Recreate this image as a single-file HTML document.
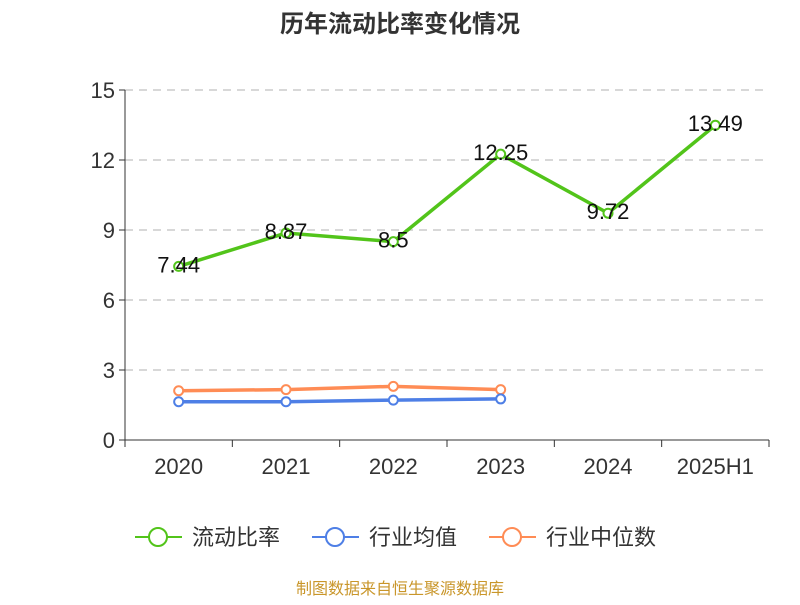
<!DOCTYPE html>
<html><head><meta charset="utf-8"><style>
body{margin:0;background:#fff;font-family:"Liberation Sans","Noto Sans CJK SC",sans-serif;}
</style></head><body>
<svg id="c" width="800" height="600" xmlns="http://www.w3.org/2000/svg" font-family="Liberation Sans, Noto Sans CJK SC, sans-serif">
<text x="400" y="32" text-anchor="middle" font-size="24" font-weight="bold" fill="#333">历年流动比率变化情况</text>
<g id="grid"></g><g id="axes"></g><g id="series"></g>
<g>
<g><line x1="135" y1="537" x2="182" y2="537" stroke="#52c41a" stroke-width="2"/><circle cx="158" cy="537" r="9" fill="#fff" stroke="#52c41a" stroke-width="2"/><text x="192" y="545" font-size="22" fill="#333">流动比率</text></g>
<g><line x1="312" y1="537" x2="359" y2="537" stroke="#4e7fe6" stroke-width="2"/><circle cx="335" cy="537" r="9" fill="#fff" stroke="#4e7fe6" stroke-width="2"/><text x="369" y="545" font-size="22" fill="#333">行业均值</text></g>
<g><line x1="489" y1="537" x2="536" y2="537" stroke="#ff8c55" stroke-width="2"/><circle cx="512" cy="537" r="9" fill="#fff" stroke="#ff8c55" stroke-width="2"/><text x="546" y="545" font-size="22" fill="#333">行业中位数</text></g>
</g>
<text x="400" y="594" text-anchor="middle" font-size="16" fill="#c9962a">制图数据来自恒生聚源数据库</text>
</svg>
<script>
const categories=["2020","2021","2022","2023","2024","2025H1"];
const currentRatio=[7.44,8.87,8.5,12.25,9.72,13.49];
const industryAvg=[1.64,1.64,1.71,1.76];
const industryMedian=[2.11,2.16,2.3,2.16];
const yTicks=[0,3,6,9,12,15];
const NS="http://www.w3.org/2000/svg";
const x0=125,x1=769,y0=440,yTop=90,yMax=15;
const band=(x1-x0)/categories.length;
const xs=i=>x0+band*(i+0.5);
const ys=v=>y0-(v/yMax)*(y0-yTop);
function mk(t,a,p){const e=document.createElementNS(NS,t);for(const k in a)e.setAttribute(k,a[k]);p.appendChild(e);return e;}
const grid=document.getElementById('grid'),axes=document.getElementById('axes'),ser=document.getElementById('series');
yTicks.forEach(v=>{
 if(v>0){const g=mk('line',{x1:x0,x2:x1,y1:ys(v),y2:ys(v),stroke:'#ccc','stroke-dasharray':'8,6','stroke-width':1.5},grid);
 
 }
 const tk=mk('line',{x1:x0-6,x2:x0,y1:ys(v),y2:ys(v),stroke:'#333'},axes);
 
 
 const t=mk('text',{x:x0-10,y:ys(v)+8,'text-anchor':'end','font-size':22,fill:'#333'},axes);t.textContent=v;
 
 
});
const ya=mk('line',{x1:x0,x2:x0,y1:yTop,y2:y0,stroke:'#333'},axes);


const xa=mk('line',{x1:x0,x2:x1,y1:y0,y2:y0,stroke:'#333'},axes);


for(let i=0;i<=categories.length;i++){const tk=mk('line',{x1:x0+band*i,x2:x0+band*i,y1:y0,y2:y0+7,stroke:'#333'},axes);
 
 }
categories.forEach((c,i)=>{const t=mk('text',{x:xs(i),y:474,'text-anchor':'middle','font-size':22,fill:'#333'},axes);t.textContent=c;
 
 });
function series(vals,color,name,labels){
 const g=mk('g',{},ser);
 
 
 mk('polyline',{points:vals.map((v,i)=>xs(i)+','+ys(v)).join(' '),fill:'none',stroke:color,'stroke-width':3.5},g);
 vals.forEach((v,i)=>{const p=mk('circle',{cx:xs(i),cy:ys(v),r:4.5,fill:'#fff',stroke:color,'stroke-width':2},g);
  
  
  if(labels){const t=mk('text',{x:xs(i),y:ys(v)+6,'text-anchor':'middle','font-size':22,fill:'#111'},g);t.textContent=v;
  
  }});
}
series(industryMedian,'#ff8c55','industry-median-line',false);
series(industryAvg,'#4e7fe6','industry-average-line',false);
series(currentRatio,'#52c41a','current-ratio-line',true);
</script>
</body></html>
